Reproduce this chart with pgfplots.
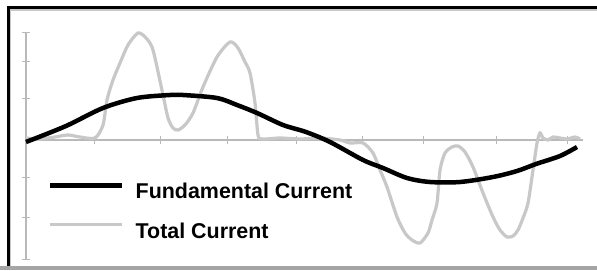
\documentclass[border=0pt]{standalone}
\usepackage{pgfplots}
\pgfplotsset{compat=1.18}
\usepackage{fontspec}
\setmainfont{Liberation Sans}
\definecolor{axgray}{RGB}{185,185,185}
\definecolor{totgray}{RGB}{200,200,200}
\definecolor{framegray}{RGB}{165,165,165}
\begin{document}
\begin{tikzpicture}[x=1bp,y=1bp]
\useasboundingbox (0,0) rectangle (597,270);
\fill[white] (0,0) rectangle (597,270);
% frame
\fill[black] (6.5,0) rectangle (9.5,263.5);
\fill[black] (6.5,260.5) rectangle (597,263.5);
\fill[totgray] (9.5,0) rectangle (11,260.5);
\fill[totgray] (9.5,259) rectangle (597,260.5);
\fill[framegray] (0,0) rectangle (597,4);
\begin{axis}[
  at={(26,11)}, anchor=south west,
  scale only axis, width=557bp, height=226bp,
  xmin=0, xmax=557, ymin=-119, ymax=107,
  axis lines=middle,
  axis line style={-, draw=axgray, line width=1.5bp},
  xtick={68,134,201,270,336,397,470,541},
  ytick={107,78,41,-37,-77,-119},
  xticklabels={}, yticklabels={},
  tick align=center,
  major tick length=7bp,
  tick style={draw=axgray, line width=1bp},
  clip=false,
  legend style={at={(axis cs:22,-43)}, anchor=north west, draw=none, fill=none,
    inner sep=0pt, row sep=24bp,
    font=\fontsize{21.5}{25}\selectfont\bfseries,
    nodes={inner sep=0pt, text height=15bp, text depth=0bp},
    /tikz/every odd column/.append style={column sep=11bp}},
  legend cell align=left,
  legend image code/.code={\draw[#1] (0bp,6bp) -- (72bp,6bp);},
]
\addlegendimage{black, line width=4.5bp}
\addlegendentry{Fundamental Current}
\addlegendimage{totgray, line width=3.2bp}
\addlegendentry{Total Current}
\addplot[totgray, line width=3.2bp, smooth, tension=0.45, forget plot] coordinates {
(0,2) (14,1) (29,3) (42,5) (54,3) (69,2) (77,15) (81,40) (87,60) (94,77)
(102,95) (112,107) (120,102) (127,90) (137,45) (142,22) (147,12) (152,10)
(159,15) (167,27) (177,53) (191,83) (204,98) (212,92) (219,78) (224,67)
(229,37) (232,5) (236,1) (254,2) (274,1) (294,2) (314,0) (324,-3) (337,-3)
(347,-13) (354,-30) (361,-47) (371,-77) (379,-93) (386,-100) (394,-103)
(402,-93) (406,-80) (411,-63) (414,-30) (419,-13) (426,-7) (432,-6)
(439,-12) (447,-27) (457,-53) (467,-77) (474,-90) (481,-97) (487,-96)
(492,-90) (497,-78) (502,-63) (507,-30) (511,-3) (514,7) (517,2) (522,0)
(527,3) (534,2) (541,1) (549,3) (554,1)
};
\addplot[black, line width=4.5bp, smooth, tension=0.5, forget plot] coordinates {
(0,-2) (40,14) (77,32) (111,42) (144,45) (157,45) (191,42) (211,35)
(231,27) (257,15) (280,8) (304,-2) (337,-20) (357,-28)
(381,-38) (404,-42) (434,-42) (467,-37) (491,-31) (510,-24) (534,-16)
(551,-7)
};
\end{axis}
\end{tikzpicture}
\end{document}
